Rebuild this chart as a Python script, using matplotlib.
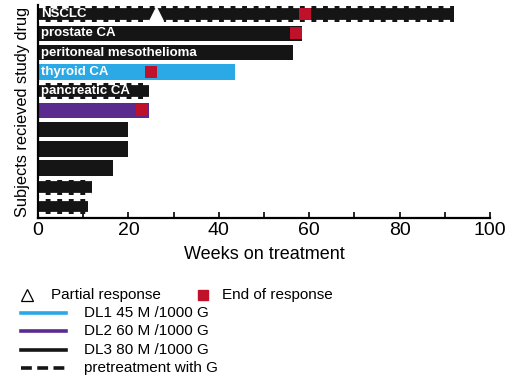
import matplotlib
matplotlib.use('Agg')
import matplotlib.pyplot as plt
from matplotlib.lines import Line2D

plt.rcParams['font.family'] = ['Liberation Sans', 'DejaVu Sans']

# one row per subject, top to bottom
labels = ['NSCLC', 'prostate CA', 'peritoneal mesothelioma', 'thyroid CA', 'pancreatic CA',
          '', '', '', '', '', '']
weeks = [92, 58.5, 56.5, 43.5, 24.5, 24.5, 20, 20, 16.5, 12, 11]
dose = ['DL3', 'DL3', 'DL3', 'DL1', 'DL3', 'DL2', 'DL3', 'DL3', 'DL3', 'DL3', 'DL3']
pretreated = [True, False, False, False, True, False, False, False, False, True, True]
end_response = [59, 57, None, 25, None, 23, None, None, None, None, None]
partial_response = [26, None, None, None, None, None, None, None, None, None, None]

dose_colors = {'DL1': '#2aa9e6', 'DL2': '#5a2a8f', 'DL3': '#151515'}
red = '#c0112b'

fig = plt.figure(figsize=(5.27, 3.78), dpi=100)
ax = fig.add_axes([0.072, 0.423, 0.858, 0.564])

rows = list(range(len(weeks)))
for i in rows:
    c = dose_colors[dose[i]]
    ax.barh(i, weeks[i], height=0.8, color=c, edgecolor='none', zorder=2)
    if pretreated[i]:
        # dashed white edge for pretreated subjects
        ax.hlines([i - 0.36, i + 0.36], 0.3, weeks[i], colors='white', linewidth=1.6,
                  linestyles=(0, (3, 2.2)), zorder=3)
    if end_response[i] is not None:
        ax.barh(i, 2.6, left=end_response[i] - 1.3, height=0.62, color=red, zorder=4)
    if partial_response[i] is not None:
        ax.plot(partial_response[i], i, marker='^', markersize=10, color='white',
                markeredgecolor='white', zorder=5)
    if labels[i]:
        ax.text(0.6, i, labels[i], color='white', fontsize=9.5, fontweight='bold',
                va='center', ha='left', zorder=6)

ax.set_xlim(0, 100)
ax.set_ylim(10.6, -0.48)
ax.set_xticks([0, 20, 40, 60, 80, 100])
ax.set_xticks([10, 30, 50, 70, 90], minor=True)
ax.tick_params(axis='x', direction='in', length=4, width=1.2, labelsize=14, pad=3)
ax.tick_params(axis='x', which='minor', direction='in', length=4, width=1.2)
ax.set_yticks([])
for s in ['top', 'right']:
    ax.spines[s].set_visible(False)
for s in ['left', 'bottom']:
    ax.spines[s].set_linewidth(1.6)
ax.set_xlabel('Weeks on treatment', fontsize=13, labelpad=5)
ax.set_ylabel('Subjects recieved study drug', fontsize=11.8, labelpad=6)

# legend drawn by hand below the plot
lg = fig.add_axes([0, 0, 1, 1])
lg.set_xlim(0, 527)
lg.set_ylim(378, 0)
lg.axis('off')
lg.plot(27, 295, marker='^', markersize=8, color='white', markeredgecolor='black', markeredgewidth=0.9)
lg.text(51, 295, 'Partial response', fontsize=11, va='center')
lg.plot(203, 295, marker='s', markersize=7, color=red)
lg.text(222, 295, 'End of response', fontsize=11, va='center')
leg_rows = [('DL1 45 M /1000 G', dose_colors['DL1'], '-'),
            ('DL2 60 M /1000 G', dose_colors['DL2'], '-'),
            ('DL3 80 M /1000 G', dose_colors['DL3'], '-'),
            ('pretreatment with G', dose_colors['DL3'], (0, (3, 1.5)))]
for k, (txt, c, ls) in enumerate(leg_rows):
    y = 313 + k * 18.3
    lg.add_line(Line2D([21, 66], [y, y], color=c, linewidth=2.6, linestyle=ls))
    lg.text(84, y, txt, fontsize=11, va='center')

fig.savefig('out.png', dpi=100)
